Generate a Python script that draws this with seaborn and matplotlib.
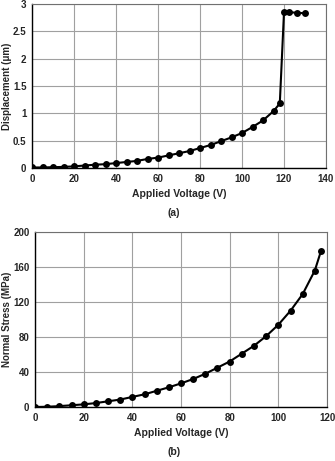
import matplotlib
matplotlib.use('Agg')
import matplotlib.pyplot as plt
import seaborn as sns
import pandas as pd

# (a) displacement vs voltage
volt_a = [0, 5, 10, 15, 20, 25, 30, 35, 40, 45, 50, 55, 60, 65, 70, 75, 80,
          85, 90, 95, 100, 105, 110, 115, 118, 120, 122.5, 126, 130]
disp_a = [0.01, 0.01, 0.015, 0.02, 0.03, 0.045, 0.06, 0.07, 0.09, 0.11, 0.13,
          0.165, 0.19, 0.23, 0.27, 0.31, 0.365, 0.42, 0.49, 0.56, 0.64, 0.75,
          0.87, 1.04, 1.18, 2.85, 2.85, 2.84, 2.83]

# (b) normal stress vs voltage
volt_b = [0, 5, 10, 15, 20, 25, 30, 35, 40, 45, 50, 55, 60, 65, 70, 75, 80,
          85, 90, 95, 100, 105, 110, 115, 117.5]
stress_b = [0, 0.3, 1, 2, 3, 4.5, 6.5, 8.5, 11.5, 14.5, 18.5, 22.5, 27, 32,
            38, 45, 52, 61, 70, 81, 94, 110, 129, 156, 178]

sns.set_style('whitegrid')
plt.rcParams['font.family'] = ['Liberation Sans', 'DejaVu Sans']
plt.rcParams['font.weight'] = 'bold'


def style_axes(ax):
    """Grid, frame and tick look of the original"""
    ax.grid(True, color='#a0a0a0', linewidth=0.8)
    for side in ['top', 'right']:
        ax.spines[side].set_color('#707070')
        ax.spines[side].set_linewidth(0.8)
    for side in ['bottom', 'left']:
        ax.spines[side].set_color('black')
        ax.spines[side].set_linewidth(1.0)
    ax.tick_params(axis='both', labelsize=7, length=0, pad=4)
    for lbl in ax.get_xticklabels() + ax.get_yticklabels():
        lbl.set_fontweight('bold')


fig = plt.figure(figsize=(3.35, 4.61), dpi=100)
ax1 = fig.add_axes([32 / 335, 1 - 168 / 461, 294 / 335, 164 / 461])
ax2 = fig.add_axes([35 / 335, 1 - 407 / 461, 292 / 335, 175 / 461])

df_a = pd.DataFrame({'volt': volt_a, 'disp': disp_a})
sns.lineplot(data=df_a, x='volt', y='disp', ax=ax1, color='black',
             linewidth=1.5, marker='o', markersize=5, markeredgewidth=0)
ax1.set_xlim(0, 140)
ax1.set_ylim(0, 3)
ax1.set_xticks(range(0, 141, 20))
ax1.set_yticks([0, 0.5, 1, 1.5, 2, 2.5, 3])
ax1.set_yticklabels(['0', '0.5', '1', '1.5', '2', '2.5', '3'])
ax1.set_xlabel('Applied Voltage (V)', fontsize=7.5, fontweight='bold', labelpad=4)
ax1.set_ylabel('Displacement (\u03bcm)', fontsize=7, fontweight='bold')
ax1.yaxis.set_label_coords(-20 / 294, 0.5)
style_axes(ax1)

df_b = pd.DataFrame({'volt': volt_b, 'stress': stress_b})
sns.lineplot(data=df_b, x='volt', y='stress', ax=ax2, color='black',
             linewidth=1.5, marker='o', markersize=5, markeredgewidth=0)
ax2.set_xlim(0, 120)
ax2.set_ylim(0, 200)
ax2.set_xticks(range(0, 121, 20))
ax2.set_yticks(range(0, 201, 40))
ax2.set_xlabel('Applied Voltage (V)', fontsize=7.5, fontweight='bold', labelpad=4)
ax2.set_ylabel('Normal Stress (MPa)', fontsize=7, fontweight='bold')
ax2.yaxis.set_label_coords(-23 / 292, 0.5)
style_axes(ax2)

fig.text(0.52, 1 - 213 / 461, '(a)', ha='center', va='center', fontsize=7.5,
         fontweight='bold')
fig.text(0.52, 1 - 452 / 461, '(b)', ha='center', va='center', fontsize=7.5,
         fontweight='bold')

fig.savefig('out.png', dpi=100)
